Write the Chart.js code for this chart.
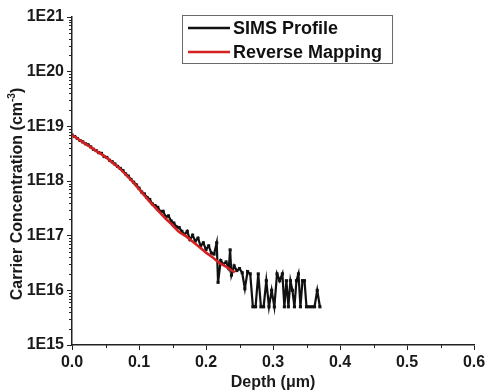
<!DOCTYPE html>
<html lang="en">
<head>
<meta charset="UTF-8">
<title>SIMS Profile vs Reverse Mapping</title>
<script src="https://cdn.jsdelivr.net/npm/chart.js"></script>
<style>
  html, body { margin: 0; padding: 0; background: #fff; }
  #chart { display: block; }
</style>
</head>
<body>
<canvas id="chart" width="490" height="392"></canvas>
<script>
// depth in um, carrier concentration in cm^-3
const simsDepth = [
  0.000, 0.004, 0.008, 0.012, 0.016, 0.020, 0.024, 0.028, 0.032, 0.036,
  0.040, 0.044, 0.048, 0.052, 0.056, 0.060, 0.064, 0.068, 0.072, 0.076,
  0.080, 0.084, 0.088, 0.092, 0.096, 0.100, 0.104, 0.108, 0.112, 0.116,
  0.120, 0.124, 0.128, 0.132, 0.136, 0.140, 0.144, 0.148, 0.152, 0.156,
  0.160, 0.164, 0.168, 0.172, 0.176, 0.180, 0.184, 0.188, 0.192, 0.196,
  0.200, 0.204, 0.208, 0.212, 0.216, 0.218, 0.222, 0.226, 0.230, 0.234,
  0.236, 0.238, 0.242, 0.246, 0.250, 0.254, 0.258, 0.262, 0.266, 0.270,
  0.274, 0.278, 0.282, 0.286, 0.290, 0.294, 0.298, 0.302, 0.306, 0.310,
  0.314, 0.317, 0.320, 0.323, 0.326, 0.329, 0.332, 0.335, 0.338, 0.341,
  0.344, 0.347, 0.350, 0.354, 0.358, 0.362, 0.366, 0.370
];
const simsConc = [
  6.9e18, 6.5e18, 6.0e18, 5.5e18, 5.2e18, 4.8e18, 4.6e18, 4.2e18, 3.8e18, 3.6e18,
  3.3e18, 3.2e18, 2.8e18, 2.7e18, 2.4e18, 2.25e18, 2.05e18, 1.85e18, 1.7e18, 1.55e18,
  1.35e18, 1.23e18, 1.07e18, 9.5e17, 8.5e17, 7.4e17, 6.3e17, 5.8e17, 5.0e17, 4.6e17,
  3.8e17, 3.55e17, 3.3e17, 2.75e17, 2.8e17, 2.2e17, 2.3e17, 1.85e17, 1.7e17, 1.45e17,
  1.4e17, 1.2e17, 1.05e17, 1.2e17, 8.5e16, 1.02e17, 8.0e16, 9.0e16, 6.5e16, 7.4e16,
  5.6e16, 6.5e16, 4.8e16, 4.6e16, 7.4e16, 1.4e16, 3.5e16, 3.0e16, 3.3e16, 2.5e16,
  5.5e16, 1.9e16, 2.8e16, 2.3e16, 2.5e16, 2.1e16, 1.07e16, 2.2e16, 2.0e16, 5e15,
  5e15, 2e16, 5e15, 5e15, 1.5e16, 5e15, 1e16, 5e15, 2e16, 1.5e16,
  2e16, 5e15, 1.5e16, 5e15, 1.5e16, 1e16, 5e15, 1.5e16, 2e16, 5e15,
  1.5e16, 1.5e16, 5e15, 5e15, 5e15, 5e15, 1e16, 5e15
];

const fitDepth = [
  0.00, 0.01, 0.02, 0.03, 0.04, 0.05, 0.06, 0.07, 0.08, 0.09,
  0.10, 0.11, 0.12, 0.13, 0.14, 0.15, 0.16, 0.17, 0.18, 0.19,
  0.20, 0.21, 0.22, 0.23, 0.24, 0.243
];
const fitConc = [
  6.92e18, 5.75e18, 4.79e18, 3.98e18, 3.31e18, 2.75e18, 2.19e18, 1.74e18, 1.32e18, 9.8e17,
  7.1e17, 5.1e17, 3.7e17, 2.75e17, 2.04e17, 1.55e17, 1.17e17, 9.8e16, 7.8e16, 6.2e16,
  4.9e16, 4.0e16, 3.2e16, 2.7e16, 2.24e16, 2.14e16
];

const xTicks = [0, 0.1, 0.2, 0.3, 0.4, 0.5, 0.6];
const xMinor = [0.05, 0.15, 0.25, 0.35, 0.45, 0.55];
const decades = [15, 16, 17, 18, 19, 20, 21];

const seriesNames = ['SIMS Profile', 'Reverse Mapping'];
const seriesColors = ['#111111', '#d42020'];

const FONT = '"Liberation Sans", Arial, sans-serif';
const INK = '#1a1a1a';

// short minor ticks on both axes
const minorTicks = {
  id: 'minorTicks',
  afterDraw(chart) {
    const { ctx, scales: { x, y } } = chart;
    ctx.save();
    ctx.strokeStyle = '#222';
    ctx.lineWidth = 1;
    ctx.beginPath();
    xMinor.forEach(v => {
      const px = Math.round(x.getPixelForValue(v)) + 0.5;
      ctx.moveTo(px, x.top);
      ctx.lineTo(px, x.top + 3);
    });
    decades.slice(0, -1).forEach(e => {
      for (let m = 2; m <= 9; m++) {
        const py = Math.round(y.getPixelForValue(m * Math.pow(10, e))) + 0.5;
        ctx.moveTo(y.right - 3, py);
        ctx.lineTo(y.right, py);
      }
    });
    ctx.stroke();
    ctx.restore();
  }
};

// rotated y title with superscript exponent
const yTitle = {
  id: 'yTitle',
  afterDraw(chart) {
    const { ctx, chartArea } = chart;
    const main = 'Carrier Concentration (cm';
    const sup = '-3';
    const close = ')';
    ctx.save();
    ctx.fillStyle = INK;
    ctx.textBaseline = 'alphabetic';
    ctx.font = 'bold 16px ' + FONT;
    const wMain = ctx.measureText(main).width;
    const wClose = ctx.measureText(close).width;
    ctx.font = 'bold 10px ' + FONT;
    const wSup = ctx.measureText(sup).width;
    const total = wMain + wSup + wClose;
    const cy = (chartArea.top + chartArea.bottom) / 2 + 13;
    ctx.translate(22, cy);
    ctx.rotate(-Math.PI / 2);
    let x0 = -total / 2;
    ctx.font = 'bold 16px ' + FONT;
    ctx.fillText(main, x0, 0);
    x0 += wMain;
    ctx.font = 'bold 10px ' + FONT;
    ctx.fillText(sup, x0, -7);
    x0 += wSup;
    ctx.font = 'bold 16px ' + FONT;
    ctx.fillText(close, x0, 0);
    ctx.restore();
  }
};

// framed legend in the upper part of the plot
const boxLegend = {
  id: 'boxLegend',
  afterDraw(chart) {
    const { ctx } = chart;
    const left = 182, top = 15, w = 210, h = 48;
    ctx.save();
    ctx.strokeStyle = '#6a6a6a';
    ctx.lineWidth = 1;
    ctx.strokeRect(left + 0.5, top + 0.5, w, h);
    ctx.font = 'bold 18px ' + FONT;
    ctx.textBaseline = 'middle';
    seriesNames.forEach((name, i) => {
      const cy = 28 + i * 24;
      ctx.strokeStyle = seriesColors[i];
      ctx.lineWidth = 2.6;
      ctx.beginPath();
      ctx.moveTo(188, cy);
      ctx.lineTo(230, cy);
      ctx.stroke();
      ctx.fillStyle = '#111';
      ctx.fillText(name, 233, cy + 1);
    });
    ctx.restore();
  }
};

new Chart(document.getElementById('chart'), {
  type: 'line',
  data: {
    datasets: [
      {
        label: seriesNames[0],
        data: simsDepth.map((d, i) => ({ x: d, y: simsConc[i] })),
        borderColor: seriesColors[0],
        borderWidth: 2.2,
        pointStyle: 'rect',
        pointRadius: 2.2,
        pointBackgroundColor: seriesColors[0],
        pointBorderWidth: 0,
        tension: 0,
        order: 2
      },
      {
        label: seriesNames[1],
        data: fitDepth.map((d, i) => ({ x: d, y: fitConc[i] })),
        borderColor: seriesColors[1],
        borderWidth: 2.6,
        pointRadius: 0,
        tension: 0.3,
        order: 1
      }
    ]
  },
  options: {
    responsive: false,
    animation: false,
    layout: { padding: { top: 17, right: 16, bottom: 0, left: 0 } },
    plugins: {
      legend: { display: false },
      tooltip: { enabled: false }
    },
    scales: {
      x: {
        type: 'linear',
        min: 0,
        max: 0.6,
        afterBuildTicks: s => { s.ticks = xTicks.map(v => ({ value: v })); },
        afterFit: s => { s.height = 47; },
        ticks: {
          callback: v => v.toFixed(1),
          color: INK,
          padding: 3,
          maxRotation: 0,
          font: { family: FONT, size: 16, weight: 'bold' }
        },
        grid: { drawOnChartArea: false, tickLength: 5, color: '#222', lineWidth: 1 },
        border: { color: '#222', width: 1.5 },
        title: {
          display: true,
          text: 'Depth (μm)',
          color: INK,
          padding: { top: 0, bottom: 0 },
          font: { family: FONT, size: 16, weight: 'bold' }
        }
      },
      y: {
        type: 'logarithmic',
        min: 1e15,
        max: 1e21,
        afterBuildTicks: s => { s.ticks = decades.map(e => ({ value: Math.pow(10, e) })); },
        afterFit: s => { s.width = 72; },
        ticks: {
          callback: v => '1E' + Math.round(Math.log10(v)),
          color: INK,
          padding: 3,
          font: { family: FONT, size: 16, weight: 'bold' }
        },
        grid: { drawOnChartArea: false, tickLength: 5, color: '#222', lineWidth: 1 },
        border: { color: '#222', width: 1.5 }
      }
    }
  },
  plugins: [minorTicks, yTitle, boxLegend]
});
</script>
</body>
</html>
